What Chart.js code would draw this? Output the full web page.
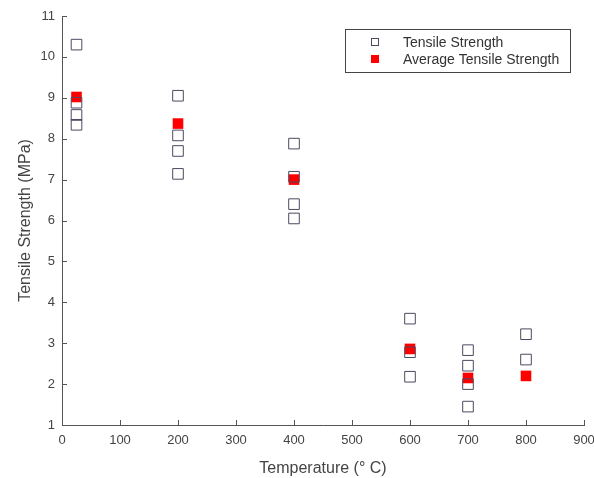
<!DOCTYPE html>
<html>
<head>
<meta charset="utf-8">
<script src="https://cdn.jsdelivr.net/npm/chart.js@4"></script>
<style>
  html, body { margin: 0; padding: 0; background: #fff; }
  #wrap { width: 594px; height: 478px; }
</style>
</head>
<body>
<div id="wrap"><canvas id="strength"></canvas></div>
<script>
"use strict";

// test temperatures (deg C) and measured strengths (MPa) per temperature
const temperatures = [25, 200, 400, 600, 700, 800];
const strengthSamples = [
    [10.3, 8.88, 8.58, 8.34],
    [9.05, 8.08, 7.7, 7.14],
    [7.88, 7.07, 6.4, 6.05],
    [3.6, 2.78, 2.18],
    [2.83, 2.45, 2.0, 1.45],
    [3.22, 2.6],
];
const averageStrength = [9.02, 8.37, 7.0, 2.86, 2.15, 2.2];
const xTicks = [0, 100, 200, 300, 400, 500, 600, 700, 800, 900];
const yTicks = [1, 2, 3, 4, 5, 6, 7, 8, 9, 10, 11];

const samplePoints = [];
temperatures.forEach((t, i) => {
    strengthSamples[i].forEach((v) => samplePoints.push({ x: t, y: v }));
});
const averagePoints = temperatures.map((t, i) => ({ x: t, y: averageStrength[i] }));

const AXIS_COLOR = "#555";
const TEXT_COLOR = "#444";
const FONT = "'Liberation Sans', Arial, sans-serif";

// inward tick marks on the left and bottom axes
const innerTicks = {
    id: "innerTicks",
    afterDraw(chart) {
        const { ctx, chartArea, scales } = chart;
        ctx.save();
        ctx.strokeStyle = AXIS_COLOR;
        ctx.lineWidth = 1;
        ctx.beginPath();
        xTicks.forEach((v) => {
            const px = Math.round(scales.x.getPixelForValue(v)) + 0.5;
            ctx.moveTo(px, chartArea.bottom);
            ctx.lineTo(px, chartArea.bottom - 5);
        });
        yTicks.forEach((v) => {
            const py = Math.round(scales.y.getPixelForValue(v)) + 0.5;
            ctx.moveTo(chartArea.left, py);
            ctx.lineTo(chartArea.left + 5, py);
        });
        ctx.stroke();
        ctx.restore();
    },
};

// boxed legend in the upper right corner
const boxLegend = {
    id: "boxLegend",
    afterDraw(chart) {
        const { ctx } = chart;
        const x0 = 345, y0 = 29, w = 225, h = 43;
        ctx.save();
        ctx.fillStyle = "#fff";
        ctx.fillRect(x0, y0, w, h);
        ctx.strokeStyle = "#444";
        ctx.lineWidth = 1;
        ctx.strokeRect(x0 + 0.5, y0 + 0.5, w, h);
        ctx.font = "14px " + FONT;
        ctx.textBaseline = "middle";
        chart.data.datasets.forEach((ds, i) => {
            const cy = y0 + 13 + i * 17;
            if (ds.backgroundColor === "transparent") {
                ctx.strokeStyle = ds.borderColor;
                ctx.strokeRect(371.5, cy - 3.5, 7, 7);
            } else {
                ctx.fillStyle = ds.backgroundColor;
                ctx.fillRect(371, cy - 4, 8, 8);
            }
            ctx.fillStyle = "#333";
            ctx.fillText(ds.label, 403, cy + 1);
        });
        ctx.restore();
    },
};

new Chart(document.getElementById("strength"), {
    type: "scatter",
    data: {
        datasets: [
            {
                label: "Tensile Strength",
                data: samplePoints,
                pointStyle: "rect",
                radius: 7.5,
                borderWidth: 1,
                borderColor: "#4a4a60",
                backgroundColor: "transparent",
            },
            {
                label: "Average Tensile Strength",
                data: averagePoints,
                pointStyle: "rect",
                radius: 7.5,
                borderWidth: 0,
                borderColor: "#f00",
                backgroundColor: "#f00",
            },
        ],
    },
    options: {
        responsive: true,
        maintainAspectRatio: false,
        animation: false,
        layout: { padding: { top: 16, right: 10, left: 16, bottom: 0 } },
        plugins: {
            legend: { display: false },
            tooltip: { enabled: false },
        },
        scales: {
            x: {
                type: "linear",
                min: 0,
                max: 900,
                afterBuildTicks: (scale) => {
                    scale.ticks = xTicks.map((v) => ({ value: v }));
                },
                afterFit: (scale) => {
                    scale.height = 53;
                    scale.paddingLeft = 0;
                    scale.paddingRight = 0;
                },
                grid: { display: false, drawTicks: false },
                border: { display: true, color: AXIS_COLOR, width: 1 },
                ticks: {
                    color: TEXT_COLOR,
                    padding: 8,
                    maxRotation: 0,
                    font: { family: FONT, size: 13 },
                },
                title: {
                    display: true,
                    text: "Temperature (° C)",
                    color: TEXT_COLOR,
                    padding: { top: 4, bottom: 0 },
                    font: { family: FONT, size: 16 },
                },
            },
            y: {
                type: "linear",
                min: 1,
                max: 11,
                afterBuildTicks: (scale) => {
                    scale.ticks = yTicks.map((v) => ({ value: v }));
                },
                afterFit: (scale) => {
                    scale.width = 46;
                    scale.paddingTop = 0;
                    scale.paddingBottom = 0;
                },
                grid: { display: false, drawTicks: false },
                border: { display: true, color: AXIS_COLOR, width: 1 },
                ticks: {
                    color: TEXT_COLOR,
                    padding: 7,
                    font: { family: FONT, size: 13 },
                },
                title: {
                    display: true,
                    text: "Tensile Strength (MPa)",
                    color: TEXT_COLOR,
                    padding: { top: 0, bottom: 4 },
                    font: { family: FONT, size: 16 },
                },
            },
        },
    },
    plugins: [innerTicks, boxLegend],
});
</script>
</body>
</html>
